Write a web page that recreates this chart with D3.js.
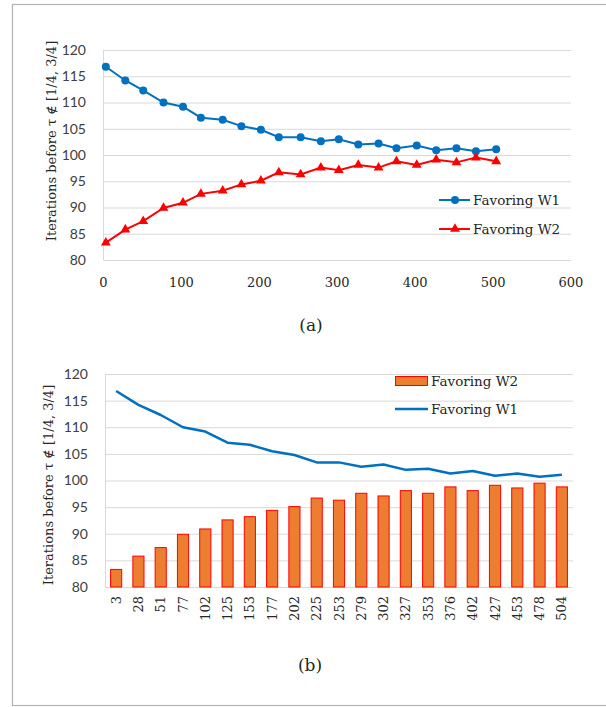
<!DOCTYPE html>
<html>
<head>
<meta charset="utf-8">
<script src="https://cdn.jsdelivr.net/npm/d3@7"></script>
<style>
  body { margin: 0; background: #fff; }
  svg { display: block; }
</style>
</head>
<body>
<svg id="chart" width="606" height="707"></svg>
<script>
// Number of iterations (x) at which each run was sampled
const iterations = [3, 28, 51, 77, 102, 125, 153, 177, 202, 225, 253, 279, 302, 327, 353, 376, 402, 427, 453, 478, 504];
// Iterations before tau leaves [1/4, 3/4], for each favoring strategy
const favoringW1 = [116.8, 114.2, 112.3, 110.0, 109.2, 107.1, 106.7, 105.5, 104.8, 103.4, 103.4, 102.6, 103.0, 102.0, 102.2, 101.3, 101.8, 100.9, 101.3, 100.7, 101.1];
const favoringW2 = [83.3, 85.8, 87.4, 89.9, 90.9, 92.6, 93.2, 94.4, 95.1, 96.7, 96.3, 97.6, 97.1, 98.1, 97.6, 98.8, 98.1, 99.1, 98.6, 99.5, 98.8];
const yTicks = [80, 85, 90, 95, 100, 105, 110, 115, 120];
const xTicksA = [0, 100, 200, 300, 400, 500, 600];
const yTitle = "Iterations before \u03C4 \u2209 [1/4, 3/4]";

const SERIF = "'DejaVu Serif', serif";
const SANS = "Lato, 'Open Sans', sans-serif";
const blue = "#0070C0", red = "#FF0000", orange = "#ED7D31", grid = "#d9d9d9";
const svg = d3.select("#chart");

function serifText(g) {
  return g.append("text").attr("font-family", SERIF).attr("fill", "#262626");
}

// outer frame
svg.append("rect").attr("x", 12.5).attr("y", 4.5).attr("width", 600).attr("height", 701)
  .attr("fill", "none").attr("stroke", "#b3b3b3").attr("stroke-width", 1.2);

// ---------- (a) line chart with markers ----------
const xA = d3.scaleLinear().domain([0, 600]).range([103.5, 571]);
const yA = d3.scaleLinear().domain([80, 120]).range([260, 50]);
const gA = svg.append("g");

gA.selectAll("line.grid").data(yTicks).join("line")
  .attr("x1", xA(0)).attr("x2", xA(600))
  .attr("y1", d => yA(d) + 0.5).attr("y2", d => yA(d) + 0.5)
  .attr("stroke", grid).attr("stroke-width", 1);
gA.append("line").attr("x1", xA(0)).attr("x2", xA(0)).attr("y1", yA(120)).attr("y2", yA(80))
  .attr("stroke", grid);

gA.selectAll("text.yt").data(yTicks).join("text")
  .attr("font-family", SANS).attr("fill", "#404040")
  .attr("x", 86).attr("y", d => yA(d)).attr("dy", "0.35em").attr("text-anchor", "end")
  .attr("font-size", 14).text(d => d);
gA.selectAll("text.xt").data(xTicksA).join("text")
  .attr("font-family", SERIF).attr("fill", "#262626")
  .attr("x", d => xA(d)).attr("y", 287).attr("text-anchor", "middle")
  .attr("font-size", 13).text(d => d);

const lineA = (vals) => d3.line().x((d, i) => xA(iterations[i])).y(d => yA(d))(vals);
gA.append("path").attr("d", lineA(favoringW1)).attr("fill", "none").attr("stroke", blue).attr("stroke-width", 2);
gA.append("path").attr("d", lineA(favoringW2)).attr("fill", "none").attr("stroke", red).attr("stroke-width", 2);
gA.selectAll("circle.m").data(favoringW1).join("circle")
  .attr("cx", (d, i) => xA(iterations[i])).attr("cy", d => yA(d)).attr("r", 4).attr("fill", blue);
const tri = d3.symbol().type(d3.symbolTriangle).size(42);
gA.selectAll("path.t").data(favoringW2).join("path")
  .attr("d", tri).attr("transform", (d, i) => `translate(${xA(iterations[i])},${yA(d)})`).attr("fill", red);

serifText(gA).attr("font-size", 13)
  .attr("transform", "translate(56,141) rotate(-90)").attr("text-anchor", "middle").text(yTitle);

// legend (a)
const legA = [{ name: "Favoring W1", c: blue, y: 200, m: "c" }, { name: "Favoring W2", c: red, y: 229, m: "t" }];
legA.forEach(l => {
  gA.append("line").attr("x1", 439).attr("x2", 470).attr("y1", l.y).attr("y2", l.y).attr("stroke", l.c).attr("stroke-width", 2);
  if (l.m === "c") gA.append("circle").attr("cx", 455).attr("cy", l.y).attr("r", 4).attr("fill", l.c);
  else gA.append("path").attr("d", tri).attr("transform", `translate(455,${l.y})`).attr("fill", l.c);
  serifText(gA).attr("x", 473).attr("y", l.y).attr("dy", "0.35em")
    .attr("font-size", 13.5).text(l.name);
});
serifText(svg).attr("x", 311).attr("y", 331).attr("text-anchor", "middle")
  .attr("font-size", 17).text("(a)");

// ---------- (b) bars + line ----------
const xB = d3.scaleBand().domain(iterations.map(String)).range([105, 573]).paddingInner(0.5).paddingOuter(0.25);
const yB = d3.scaleLinear().domain([80, 120]).range([587, 374]);
const gB = svg.append("g");

gB.selectAll("line.grid").data(yTicks).join("line")
  .attr("x1", 105).attr("x2", 573)
  .attr("y1", d => yB(d) + 0.5).attr("y2", d => yB(d) + 0.5)
  .attr("stroke", grid);
gB.append("line").attr("x1", 105.5).attr("x2", 105.5).attr("y1", yB(120)).attr("y2", yB(80)).attr("stroke", grid);

gB.selectAll("text.yt").data(yTicks).join("text")
  .attr("font-family", SANS).attr("fill", "#404040")
  .attr("x", 88).attr("y", d => yB(d)).attr("dy", "0.35em").attr("text-anchor", "end")
  .attr("font-size", 14).text(d => d);

gB.selectAll("rect.bar").data(favoringW2).join("rect")
  .attr("x", (d, i) => xB(String(iterations[i])))
  .attr("width", xB.bandwidth())
  .attr("y", d => yB(d)).attr("height", d => yB(80) - yB(d))
  .attr("fill", orange).attr("stroke", red).attr("stroke-width", 1);

const lineB = d3.line().x((d, i) => xB(String(iterations[i])) + xB.bandwidth() / 2).y(d => yB(d));
gB.append("path").attr("d", lineB(favoringW1)).attr("fill", "none").attr("stroke", blue)
  .attr("stroke-width", 2.5).attr("stroke-linejoin", "round");

gB.selectAll("text.xt").data(iterations).join("text")
  .attr("font-family", SERIF).attr("fill", "#262626")
  .attr("transform", d => `translate(${xB(String(d)) + xB.bandwidth() / 2},596) rotate(-90)`)
  .attr("dy", "0.35em").attr("text-anchor", "end").attr("font-size", 13).text(d => d);

serifText(gB).attr("font-size", 13)
  .attr("transform", "translate(53,485) rotate(-90)").attr("text-anchor", "middle").text(yTitle);

// legend (b)
gB.append("rect").attr("x", 395.5).attr("y", 376.5).attr("width", 32).attr("height", 9)
  .attr("fill", orange).attr("stroke", red);
serifText(gB).attr("x", 431).attr("y", 381).attr("dy", "0.35em")
  .attr("font-size", 13.5).text("Favoring W2");
gB.append("line").attr("x1", 395).attr("x2", 428).attr("y1", 409).attr("y2", 409)
  .attr("stroke", blue).attr("stroke-width", 2.5);
serifText(gB).attr("x", 431).attr("y", 409).attr("dy", "0.35em")
  .attr("font-size", 13.5).text("Favoring W1");

serifText(svg).attr("x", 310).attr("y", 671).attr("text-anchor", "middle")
  .attr("font-size", 17).text("(b)");
</script>
</body>
</html>
